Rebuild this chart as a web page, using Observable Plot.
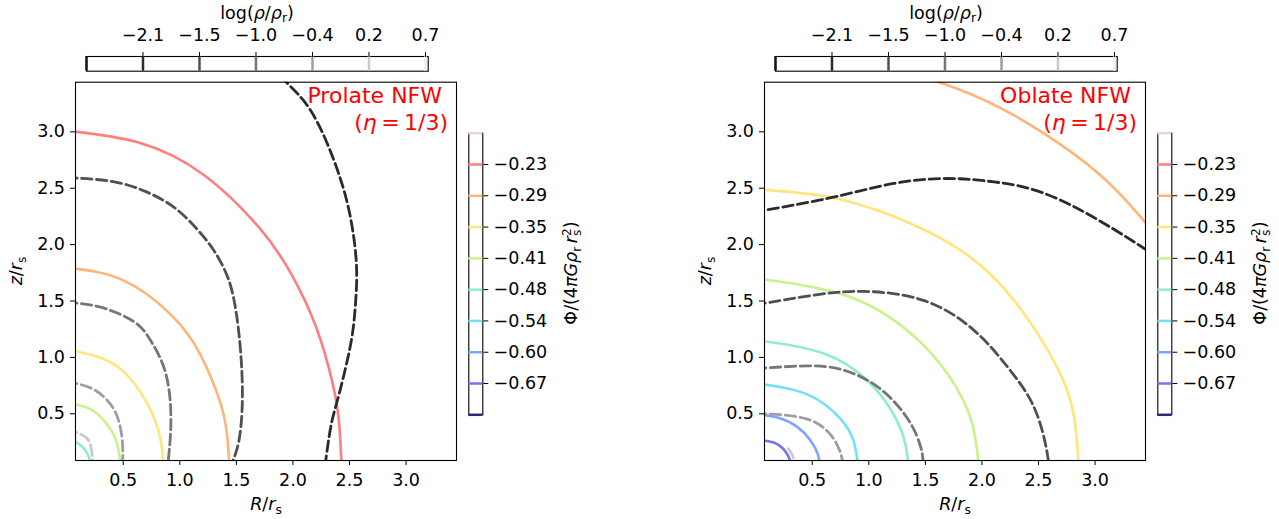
<!DOCTYPE html>
<html><head><meta charset="utf-8">
<script src="https://cdn.jsdelivr.net/npm/d3@7"></script>
<script src="https://cdn.jsdelivr.net/npm/@observablehq/plot@0.6"></script>
<style>
body{margin:0;background:#fff;}
#fig{position:relative;width:1279px;height:519px;overflow:hidden;background:#fff;}
#fig svg{position:absolute;overflow:visible;max-width:none;}
</style></head><body><div id="fig"></div>
<script>
// ---------- axis ticks ----------
const xTicks = [0.5, 1.0, 1.5, 2.0, 2.5, 3.0];
const yTicks = [0.5, 1.0, 1.5, 2.0, 2.5, 3.0];

// ---------- contour levels (colorbars) ----------
const densityLevels = [-2.64, -2.08, -1.52, -0.96, -0.40, 0.16, 0.72];
const densityTickLabels = ["−2.1", "−1.5", "−1.0", "−0.4", "0.2", "0.7"];
const densityColors = ["#101010", "#2b2b2b", "#505050", "#767676", "#9e9e9e", "#c9c9c9", "#ececec"];

const potentialLevels = [-0.162, -0.225, -0.288, -0.351, -0.414, -0.477, -0.540, -0.603, -0.666, -0.729];
const potentialTickLabels = ["−0.23", "−0.29", "−0.35", "−0.41", "−0.48", "−0.54", "−0.60", "−0.67"];
const potentialColors = ["#f3d0d0", "#ff7f7f", "#ffb47a", "#ffe57a", "#c9f28a", "#8ef0c0", "#6fe2f7", "#7aa6ff", "#7474ee", "#2a2a78"];

// ---------- prolate panel: potential contours [R, z] ----------
const prolatePhi023 = [[0,3.01],[0.629,2.907],[1.216,2.615],[1.72,2.128],[1.992,1.727],[2.204,1.272],[2.349,0.779],[2.408,0.419],[2.432,0]];
const prolatePhi029 = [[0,1.795],[0.4925,1.687],[0.9256,1.375],[1.1796,1.03],[1.3532,0.614],[1.418,0.312],[1.44,0]];
const prolatePhi035 = [[0,1.072],[0.362,0.972],[0.606,0.758],[0.777,0.453],[0.844,0.186],[0.857,0]];
const prolatePhi041 = [[0,0.60],[0.205,0.544],[0.344,0.424],[0.44,0.254],[0.486,0]];
const prolatePhi048 = [[0,0.27],[0.0917,0.245],[0.153,0.191],[0.197,0.114],[0.217,0]];
// prolate density contours
const prolateRho208 = [[1.81,3.6],[1.945,3.437],[2.157,3.189],[2.363,2.746],[2.496,2.302],[2.56,1.85],[2.555,1.504],[2.526,1.209],[2.467,0.913],[2.393,0.618],[2.334,0.381],[2.290,0.086],[2.275,0]];
const prolateRho152 = [[0,2.595],[0.4,2.56],[0.7,2.47],[0.95,2.33],[1.15,2.14],[1.3,1.95],[1.42,1.72],[1.49,1.45],[1.537,1.061],[1.553,0.618],[1.523,0.263],[1.47,0.086],[1.44,0]];
const prolateRho096 = [[0,1.49],[0.3,1.445],[0.594,1.317],[0.742,1.15],[0.859,0.913],[0.915,0.618],[0.918,0.323],[0.898,0.086],[0.89,0]];
const prolateRho040 = [[0,0.785],[0.211,0.73],[0.358,0.62],[0.447,0.475],[0.491,0.27],[0.495,0.086],[0.49,0]];
const prolateRho016 = [[0,0.36],[0.166,0.295],[0.217,0.19],[0.228,0.086],[0.228,0]];

// ---------- oblate panel: potential contours [R, z] ----------
const oblatePhi029 = [[1.3,3.544],[1.8,3.375],[2.3,3.137],[2.8,2.813],[3.2,2.47],[3.6,2.012]];
const oblatePhi035 = [[0,2.49],[0.633,2.425],[1.222,2.25],[1.812,1.95],[2.284,1.505],[2.668,0.905],[2.815,0.47],[2.86,0]];
const oblatePhi041 = [[0,1.70],[0.835,1.535],[1.397,1.19],[1.71,0.835],[1.908,0.435],[1.975,0]];
const oblatePhi048 = [[0,1.153],[0.603,1.035],[0.987,0.795],[1.193,0.54],[1.311,0.28],[1.355,0]];
const oblatePhi054 = [[0,0.769],[0.456,0.672],[0.75,0.455],[0.868,0.25],[0.912,0]];
const oblatePhi060 = [[0,0.496],[0.2,0.465],[0.367,0.384],[0.48,0.27],[0.55,0.14],[0.574,0]];
const oblatePhi067 = [[0,0.27],[0.16,0.245],[0.264,0.165],[0.305,0.08],[0.32,0]];
// oblate density contours
const oblateRho208 = [[0,2.29],[0.078,2.305],[0.633,2.409],[1.222,2.542],[1.694,2.586],[2.107,2.556],[2.697,2.394],[3.435,1.966],[3.6,1.85]];
const oblateRho152 = [[0,1.47],[0.078,1.48],[0.5,1.55],[0.95,1.585],[1.488,1.504],[1.93,1.24],[2.226,0.916],[2.43,0.621],[2.54,0.325],[2.587,0.086],[2.59,0]];
const oblateRho096 = [[0,0.90],[0.078,0.905],[0.456,0.925],[0.75,0.895],[0.987,0.798],[1.193,0.64],[1.37,0.414],[1.458,0.207],[1.479,0.086],[1.48,0]];
const oblateRho040 = [[0,0.50],[0.078,0.50],[0.44,0.458],[0.662,0.315],[0.74,0.18],[0.766,0.086],[0.77,0]];
const oblateRho016 = [[0.29,0.19],[0.325,0.13],[0.34,0.06]];

// ---------- assemble panels ----------
const panels = [
  {
    offset: 0, title: "Prolate NFW",
    potential: [[-0.225, prolatePhi023], [-0.288, prolatePhi029], [-0.351, prolatePhi035], [-0.414, prolatePhi041], [-0.477, prolatePhi048]],
    density: [[-2.08, prolateRho208], [-1.52, prolateRho152], [-0.96, prolateRho096], [-0.40, prolateRho040], [0.16, prolateRho016]]
  },
  {
    offset: 689, title: "Oblate NFW",
    potential: [[-0.288, oblatePhi029], [-0.351, oblatePhi035], [-0.414, oblatePhi041], [-0.477, oblatePhi048], [-0.540, oblatePhi054], [-0.603, oblatePhi060], [-0.666, oblatePhi067]],
    density: [[-2.08, oblateRho208], [-1.52, oblateRho152], [-0.96, oblateRho096], [-0.40, oblateRho040], [0.16, oblateRho016]]
  }
];

const potColor = l => potentialColors[potentialLevels.indexOf(l)];
const denColor = l => densityColors[densityLevels.indexOf(l)];
const FONT = "DejaVu Sans";
const FS = 17.5;
const baseStyle = {fontFamily: FONT, fontSize: FS + "px", background: "transparent", color: "black", overflow: "visible"};
const fig = document.getElementById("fig");

function place(svg, left, top) {
  svg.style.left = left + "px";
  svg.style.top = top + "px";
  fig.appendChild(svg);
}

for (const p of panels) {
  // main contour plot
  const main = Plot.plot({
    width: 460, height: 444,
    marginLeft: 75, marginRight: 4, marginTop: 6.7, marginBottom: 59,
    x: {domain: [0.078, 3.446]},
    y: {domain: [0.086, 3.44]},
    style: baseStyle,
    marks: [
      ...p.potential.map(([lv, pts]) => Plot.line(pts, {x: d => d[0], y: d => d[1], stroke: potColor(lv), strokeWidth: 2.6, curve: "natural", clip: true})),
      ...p.density.map(([lv, pts]) => Plot.line(pts, {x: d => d[0], y: d => d[1], stroke: denColor(lv), strokeWidth: 2.8, strokeDasharray: "10.4,4.5", curve: "natural", clip: true})),
      Plot.frame({stroke: "black", strokeWidth: 1.1}),
      Plot.axisX({ticks: xTicks, tickFormat: d => d.toFixed(1), tickSize: 5, tickPadding: 7.6, fontSize: FS, label: null}),
      Plot.axisY({ticks: yTicks, tickFormat: d => d.toFixed(1), tickSize: 5, tickPadding: 5.5, fontSize: FS, label: null})
    ]
  });
  place(main, p.offset, 75);

  // top colorbar (density)
  const dMap = new Map(densityLevels.slice(1).map((v, i) => [v, densityTickLabels[i]]));
  const topBar = Plot.plot({
    width: 460, height: 75,
    marginLeft: 86, marginRight: 32.3, marginTop: 56, marginBottom: 4.3,
    x: {domain: [densityLevels[0], 0.747]},
    color: {type: "identity"},
    style: baseStyle,
    marks: [
      Plot.frame({stroke: "black", strokeWidth: 1.1}),
      Plot.ruleX(densityLevels, {x: d => d, stroke: (d, i) => densityColors[i], strokeWidth: 2.5}),
      Plot.axisX({anchor: "top", ticks: densityLevels.slice(1), tickFormat: d => dMap.get(d), tickSize: 5, tickPadding: 11, fontSize: FS, label: null})
    ]
  });
  place(topBar, p.offset, 0);

  // right colorbar (potential)
  const pMap = new Map(potentialLevels.slice(1, 9).map((v, i) => [v, potentialTickLabels[i]]));
  const sideBar = Plot.plot({
    width: 140, height: 519,
    marginLeft: 8.3, marginRight: 117.7, marginTop: 132.7, marginBottom: 104.7,
    y: {domain: [potentialLevels[9], potentialLevels[0]]},
    color: {type: "identity"},
    style: baseStyle,
    marks: [
      Plot.frame({stroke: "black", strokeWidth: 1.1}),
      Plot.ruleY(potentialLevels, {y: d => d, stroke: (d, i) => potentialColors[i], strokeWidth: 2.5}),
      Plot.axisY({anchor: "right", ticks: potentialLevels.slice(1, 9), tickFormat: d => pMap.get(d), tickSize: 5, tickPadding: 5.8, fontSize: FS, label: null})
    ]
  });
  place(sideBar, p.offset + 460, 0);

  // text overlay
  const o = p.offset;
  const ns = "http://www.w3.org/2000/svg";
  const t = document.createElementNS(ns, "svg");
  t.setAttribute("width", 600); t.setAttribute("height", 519);
  t.style.left = o + "px"; t.style.top = "0px";
  t.setAttribute("font-family", FONT);
  t.setAttribute("font-size", FS);
  t.innerHTML = `
    <text x="257" y="18.5" text-anchor="middle">log(<tspan font-style="italic">ρ</tspan>/<tspan font-style="italic">ρ</tspan><tspan font-size="12.3" dy="3.5">r</tspan><tspan dy="-3.5">)</tspan></text>
    <text x="266" y="510" text-anchor="middle"><tspan font-style="italic">R</tspan>/<tspan font-style="italic">r</tspan><tspan font-size="12.3" dy="3.5">s</tspan></text>
    <text transform="translate(22,271) rotate(-90)" text-anchor="middle"><tspan font-style="italic">z</tspan>/<tspan font-style="italic">r</tspan><tspan font-size="12.3" dy="3.5">s</tspan></text>
    <text x="442" y="103" text-anchor="end" fill="red" font-size="22">${p.title}</text>
    <text x="448" y="130" text-anchor="end" fill="red" font-size="22">(<tspan font-style="italic">η</tspan>\u2009=\u20091/3)</text>
    <text transform="translate(577,273) rotate(-90)" text-anchor="middle">Φ/(4<tspan font-style="italic">πGρ</tspan><tspan font-size="12.3" dy="3.5">r</tspan><tspan dy="-3.5" font-style="italic">\u2009r</tspan><tspan font-size="12.3" dy="3.5">s</tspan><tspan font-size="12.3" dx="-6.4" dy="-10">2</tspan><tspan dy="6.5">)</tspan></text>
  `;
  fig.appendChild(t);
}
</script></body></html>
